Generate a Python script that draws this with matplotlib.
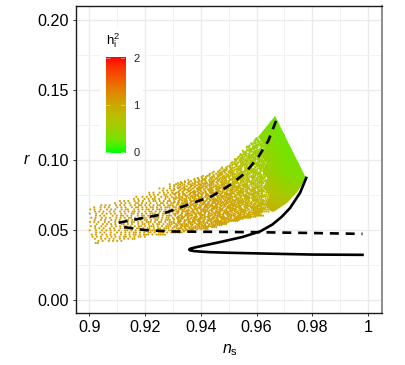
import matplotlib
matplotlib.use("Agg")
import matplotlib.pyplot as plt
import numpy as np
from matplotlib.colors import LinearSegmentedColormap
from matplotlib.patches import Polygon, Rectangle

plt.rcParams["font.family"] = ["Liberation Sans", "DejaVu Sans"]
plt.rcParams["mathtext.fontset"] = "custom"
plt.rcParams["mathtext.rm"] = "Liberation Sans"
plt.rcParams["mathtext.it"] = "Liberation Sans:italic"

# solid and dashed model curves
solid_ns = [0.998, 0.98, 0.961, 0.95, 0.9434, 0.94, 0.9375, 0.9362, 0.9358, 0.9362, 0.9375, 0.94, 0.947, 0.955,
            0.9613, 0.9656, 0.969, 0.972, 0.9756, 0.9778]
solid_r = [0.032, 0.0322, 0.033, 0.0335, 0.0339, 0.0343, 0.0347, 0.0352, 0.0358, 0.0364, 0.0371, 0.0382, 0.0412,
           0.0448, 0.0488, 0.0536, 0.0592, 0.0655, 0.0764, 0.087]
dash_up_ns = [0.9105, 0.9254, 0.9373, 0.944, 0.9505, 0.956, 0.9606, 0.9642, 0.9672]
dash_up_r = [0.055, 0.0607, 0.0693, 0.074, 0.082, 0.0907, 0.102, 0.1136, 0.129]
dash_lo_ns = [0.9125, 0.92, 0.93, 0.94, 0.96, 0.98, 0.998]
dash_lo_r = [0.0518, 0.0497, 0.0487, 0.0485, 0.0482, 0.0476, 0.047]

# solid right part of the cloud
solid_edge_ns = [0.9667, 0.9778, 0.975, 0.971, 0.9665, 0.9655, 0.963, 0.9648, 0.9622, 0.9642, 0.9618, 0.9638,
                 0.9612, 0.9632, 0.9605]
solid_edge_r = [0.131, 0.087, 0.0775, 0.0693, 0.0635, 0.0625, 0.068, 0.074, 0.08, 0.086, 0.092, 0.098,
                0.104, 0.11, 0.1165]

# h2
ns_grid = [0.90, 0.94, 0.95, 0.955, 0.96, 0.965, 0.97, 0.98]
r_grid = [0.04, 0.06, 0.075, 0.09, 0.105, 0.12, 0.135]
h2_grid = [[1.08, 1.05, 1.05, 1.05, 1.05, 1.03, 1.00, 0.95],
           [1.08, 1.05, 1.05, 1.02, 1.00, 0.95, 0.85, 0.80],
           [1.08, 1.05, 1.00, 0.92, 0.82, 0.72, 0.60, 0.50],
           [1.08, 1.02, 0.90, 0.75, 0.62, 0.52, 0.38, 0.30],
           [1.05, 0.98, 0.82, 0.65, 0.50, 0.42, 0.30, 0.25],
           [1.05, 0.90, 0.70, 0.55, 0.42, 0.33, 0.25, 0.20],
           [1.05, 0.85, 0.65, 0.45, 0.35, 0.28, 0.20, 0.20]]

# where samples sit, one row per r level ('#' = sample seen), first column given by cloud_start
cloud_ns0 = 0.90
cloud_dns = 0.00075
cloud_r = [0.1155, 0.114, 0.1125, 0.111, 0.1095, 0.108, 0.1065, 0.105, 0.1035, 0.102, 0.1005, 0.099, 0.0975,
           0.096, 0.0945, 0.093, 0.0915, 0.09, 0.0885, 0.087, 0.0855, 0.084, 0.0825, 0.081, 0.0795, 0.078,
           0.0765, 0.075, 0.0735, 0.072, 0.0705, 0.069, 0.0675, 0.066, 0.0645, 0.063, 0.0615, 0.06, 0.0585,
           0.057, 0.0555, 0.054, 0.0525, 0.051, 0.0495, 0.048, 0.0465, 0.045, 0.0435, 0.042, 0.0405]
cloud_start = [80, 79.6, 78.3, 77.8, 75.4, 75.9, 73.3, 73.7, 71.5, 71.2, 69.6, 69.3, 67.8, 67.2, 63.4, 62.7, 58.5,
               57.6, 53.4, 51.8, 46.3, 43.7, 38.4, 37.6, 33.5, 33.2, 28.6, 27.8, 22.4, 20.3, 14.6, 11.2, 5.7, 1.3,
               0.4, 1.7, 0.2, 2.1, 0.9, 1.5, 0.3, 2.4, 0.7, 1.8, 0.1, 2.2, 1.1, 0.5, 2.6, 3.3, 3]
cloud_rows = [
    "#.###.##",
    "##.#.####",
    ".###.###.#",
    "#.####.###.",
    "##.###.#####",
    ".####.#.#####",
    "#.###.#####.##",
    "##.#.####.#####",
    ".###.#####.#.###",
    "#.##.####.###.###",
    "##.###.#.#####.###",
    ".#.####.###.#######",
    "#.##.###.#####.#####",
    "##.#.####.##.########",
    "#.#.###.##.####.#.######",
    "#.##.#.####.##.###.#.#####",
    ".#.#.##.###.#.####.###.#.#####",
    "#..#.##.#.###.##.###.####.#.####",
    ".#.##.#.##.#.###.####.#.###.##.####",
    "#.#.#.##.#.###.#.##.###.#.###.###.###",
    ".#..#.#.##.#.#.###.#.##.####.##.###.#.####",
    "#.#.#..##.#.#.##.#.###.#.###.##.####.###.####",
    "#..#.#.#.##.#.##.#.###.#.##.####.#.###.####.#.###",
    ".#.#..#.##.#.#.#.##.#.###.##.#.####.###.#.###.#####",
    "#.#..#.#.#.##.#.#.###.#.##.###.#.###.####.##.###.#.####",
    "..#.#.##..#.#.##.#.##.#.###.##.#.###.####.#.###.###.####",
    "#.#..#.#.#.#.##.#.#.###.#.##.###.#.###.##.####.##.###.#.###",
    ".#.#.#..##.#.#.#.##.#.###.#.##.###.#.####.###.##.###.#.######",
    "#..#.#.#.#..#.##.#.#.##.#.###.##.#.###.#.###.####.#.###.##.#######",
    ".#.#..#.#.##.#..#.#.##.#.##.#.###.#.##.####.#.###.##.####.###.#.#####",
    "#.#.#..#.#.#..#.##.#.#.##.#.#.###.##.#.###.#.####.##.###.####.#.###.#####",
    ".#..#.#.#..##.#.#.#..#.##.#.##.#.###.#.##.###.#.###.####.##.###.###.#.#######",
    "#.#.#..#.#.#..#.#.##.#.#.#.##.#.###.#.##.#.###.##.####.#.###.####.##.###.#.#######",
    ".#..#.#.#...#.#.#..#.##.#.#.##.#.#.###.##.#.####.#.##.###.####.#.###.###.##.####.######",
    "#.#..#..#.#.#..#.##..#.#.#.##.#.###.#.##.#.###.#.###.####.##.###.#.####.###.#.##########",
    ".#.#.#..#.#..#.#.#.##.#..#.##.#.#.###.#.##.###.##.#.####.#.###.####.##.###.#.########",
    "#..#..#.#.#.#..#.#..##.#.#.#.###.#.##.#.###.#.###.####.#.##.###.####.#.##.###.####",
    ".#.#.#...#.#.##.#.#..#.##.#.#.##.#.###.#.##.####.#.###.##.###.#.####.##.####.#####",
    "#.#..#.#.#..#.#.#.##.#.#.##.#.###.#.##.#.####.#.###.###.#.###.####.#.########",
    ".#..#.#..#.#.#..##.#.#.#.##.#.##.#.###.#.##.###.####.#.###.##.#########",
    "#.#.#..#.#..#.#.#.#.##.#.#.###.#.##.#.###.##.#.####.###.#.#########",
    ".#..#.#.#.#..##.#.#..#.##.#.#.##.#.###.#.####.##.###.#.#########",
    "#.#..#.#..#.#.#.##.#.#.##.#.###.#.#.###.##.####.#.##########",
    ".#.#.#..#.#..#.#.#.#.##.#.##.#.##.###.#.###.#.#########",
    "#..#..#.#.#.#.#..##.#.#.##.#.###.#.##.####.#.#####",
    ".#.#.#..#..#.#.#.#.##.#.#.##.#.###.#.######",
    "#.#..#.#.#.#..#.#.#.##.#.###.#.#####",
    ".#.#.#..#.#.#.#.##.#.#.##.#.",
    "#..#.#.#.#..#.#.#.##.",
    ".#.#..#.#.#.#..",
    "##",
]

# second layer of samples, between the r levels above and denser towards the right
cloud2_r = [0.11475, 0.11325, 0.11175, 0.11025, 0.10875, 0.10725, 0.10575, 0.10425, 0.10275, 0.10125, 0.09975,
            0.09825, 0.09675, 0.09525, 0.09375, 0.09225, 0.09075, 0.08925, 0.08775, 0.08625, 0.08475, 0.08325,
            0.08175, 0.08025, 0.07875, 0.07725, 0.07575, 0.07425, 0.07275, 0.07125, 0.06975, 0.06825, 0.06675,
            0.06525, 0.06375, 0.06225, 0.06075, 0.05925, 0.05775, 0.05625, 0.05475, 0.05325, 0.05175, 0.05025,
            0.04875]
cloud2_start = [79.5, 78.9, 77.4, 76.7, 75.2, 74.6, 73.8, 72.3, 71.9, 70.4, 69.8, 68.3, 67.7, 66.2, 63.6, 61.3, 58.8,
                56.4, 53.7, 49.2, 45.6, 41.3, 40.5, 41.2, 40.7, 41.6, 40.2, 41.9, 40.4, 41.1, 40.8, 41.5, 40.1,
                41.7, 40.6, 41.3, 40.9, 41.4, 40.3, 41.8, 40.5, 41.2, 40.7, 41.6, 40.2]
cloud2_rows = [
    "##.##",
    "#.####",
    "###.###",
    "#.######",
    "##.###.##",
    ".####.####",
    "##.#####.##",
    "#.###.######",
    "##.####.#####",
    ".###.#######.#",
    "#.##.#####.####",
    "##.###.#########",
    ".###.#####.######",
    "##..####.###.#####",
    "#.#.##.###.#####.####",
    ".#.##.###.##.#######.##",
    "#..##.#.###.####.#######.#",
    ".#.#.###.##.#####.###.######",
    "#.#..##.#.####.###.#######.####",
    ".#.#.##..#.###.##.####.#####.#.####",
    "#..#.#.##.#.###.#.####.###.######.#######",
    ".#.#..#.##.#.###.##.#.####.#####.##.#######",
    "#.#.#...##.#.##.###.#.####.###.######.#####",
    ".##.#..#.#.###.#.##.####.#.#####.###.######",
    "#..#.##.#..##.#.###.##.###.####.#######.###",
    ".#.#..#.###.#.#.##.####.#.###.#####.#######",
    "##.#.#..#.#.###.#.###.##.#####.###.########",
    ".#..##.#.##.#.##.#.####.###.#.#####.#######",
    "#.#.#..#.##.###.#.##.###.####.###.#########",
    "..##.#.#.#..##.#.####.#.###.#####.##.######",
    "#.#..##.#.###.#.#.##.###.###.#######.#.####",
    ".#.#.#.##.#..###.#.###.##.#####.###.#######",
    "#..##.#.#.##.#.##.####.#.###.####.#########",
    ".##.#..#.###.#.#.###.##.#####.##.##.#######",
    "#.#.#.##.#.#.###.##.#.####.###.#####.######",
    ".#.#..#.##.##.#.#.####.###.#.#####.#######",
    "#..#.##.#.#.###.#.##.###.#####.###.#######",
    ".#.##.#..##.#.###.#.####.##.###########",
    "#.#.#..##.#.##.#.###.#.#####.#####",
    ".##.#.#.#.##.#.##.####.#.#####",
    "#.#..#.##.#.#.###.#.######",
    ".#.#.##.#..#.##.#.#####",
    "#..#.#.#.##.#.###.###",
    ".#.#.#.##.#.#.##",
    "#.#..#.#.##",
]

# colour bar
bar_ticks = [0, 1, 2]
bar_values = [0, 0.25, 0.5, 0.75, 1, 1.25, 1.5, 1.75, 2]
bar_colors = ["#00ff00", "#6fe800", "#9cd000", "#b8c000", "#cca800", "#e08800", "#f06000", "#fa3800", "#ff0000"]

cmap = LinearSegmentedColormap.from_list("h2", [(v / 2, c) for v, c in zip(bar_values, bar_colors)])
norm = plt.Normalize(0, 2)
h2_table = np.array(h2_grid)

fig = plt.figure(figsize=(4.05, 3.65), dpi=100)
ax = fig.add_axes([75.5 / 405, 1 - 313 / 365, (382 - 75.5) / 405, (313 - 6) / 365])
ax.set_xlim(0.895, 1.005)
ax.set_ylim(-0.0096, 0.21)

ax.set_xticks([0.9, 0.92, 0.94, 0.96, 0.98, 1.0])
ax.set_xticklabels(["0.9", "0.92", "0.94", "0.96", "0.98", "1"])
ax.set_yticks([0.0, 0.05, 0.10, 0.15, 0.20])
ax.set_yticklabels(["0.00", "0.05", "0.10", "0.15", "0.20"])
ax.set_xticks([0.91, 0.93, 0.95, 0.97, 0.99], minor=True)
ax.set_yticks([0.025, 0.075, 0.125, 0.175], minor=True)
ax.tick_params(which="major", labelsize=11.6, length=2.5, width=0.7, color="#333333", pad=2.5)
ax.tick_params(which="minor", length=0)
ax.grid(which="major", color="#ebebeb", lw=1.0)
ax.grid(which="minor", color="#f2f2f2", lw=0.7)
ax.set_axisbelow(True)

mesh = ax.pcolormesh(ns_grid, r_grid, h2_table, shading="gouraud", cmap=cmap, norm=norm, zorder=2)
mesh.set_clip_path(Polygon(list(zip(solid_edge_ns, solid_edge_r)), transform=ax.transData))

cloud_x, cloud_y = [], []
for r_list, starts, rows in [(cloud_r, cloud_start, cloud_rows), (cloud2_r, cloud2_start, cloud2_rows)]:
    for r, start, row in zip(r_list, starts, rows):
        for i, c in enumerate(row):
            if c == "#":
                cloud_x.append(cloud_ns0 + (start + i) * cloud_dns)
                cloud_y.append(r)
h2_cols = [np.interp(cloud_y, r_grid, h2_table[:, j]) for j in range(len(ns_grid))]
cloud_h2 = [np.interp(x, ns_grid, [col[k] for col in h2_cols]) for k, x in enumerate(cloud_x)]
ax.scatter(cloud_x, cloud_y, s=2.3, c=cloud_h2, cmap=cmap, norm=norm, linewidths=0, zorder=3)

ax.plot(solid_ns, solid_r, color="k", lw=1.9, zorder=4)
ax.plot(dash_up_ns, dash_up_r, color="k", lw=1.9, ls=(0, (3.4, 2.6)), zorder=4)
ax.plot(dash_lo_ns, dash_lo_r, color="k", lw=1.9, ls=(0, (3.4, 2.6)), zorder=4)

for side in ["left", "bottom", "top"]:
    ax.spines[side].set_color("#1a1a1a")
    ax.spines[side].set_linewidth(1.0)
ax.spines["right"].set_color("#8c8c8c")
ax.spines["right"].set_linewidth(1.4)

fig.text(222 / 405, 1 - 350 / 365, r"$\mathit{n}_{\mathrm{s}}$", fontsize=11.5, va="center", ha="left")
fig.text(27 / 405, 1 - 160 / 365, r"$\mathit{r}$", fontsize=11.5, va="center", ha="center")

# legend block sits on white over the grid
fig.add_artist(Rectangle((100 / 405, 1 - 160 / 365), 43 / 405, 133 / 365, transform=fig.transFigure,
                         facecolor="white", edgecolor="none", zorder=1.5))
cax = fig.add_axes([106 / 405, 1 - 153.5 / 365, 19 / 405, 97 / 365], zorder=5)
cax.imshow(np.linspace(2, 0, 200).reshape(-1, 1), aspect="auto", cmap=cmap, norm=norm, extent=[0, 1, -0.04, 2.04])
for t in bar_ticks:
    cax.plot([0, 0.2], [t, t], color="white", lw=0.4, alpha=0.7)
    cax.plot([0.8, 1], [t, t], color="white", lw=0.4, alpha=0.7)
cax.set_xlim(0, 1)
cax.set_ylim(-0.04, 2.04)
cax.set_xticks([])
cax.yaxis.tick_right()
cax.set_yticks(bar_ticks)
cax.set_yticklabels([str(t) for t in bar_ticks])
cax.tick_params(length=0, labelsize=8, pad=6, labelcolor="#222222")
for s in cax.spines.values():
    s.set_visible(False)
fig.text(106 / 405, 1 - 41 / 365, r"$\mathrm{h}_{\mathrm{i}}^{2}$", fontsize=9.5, va="center", ha="left", zorder=6)

fig.savefig("out.png", dpi=100)
